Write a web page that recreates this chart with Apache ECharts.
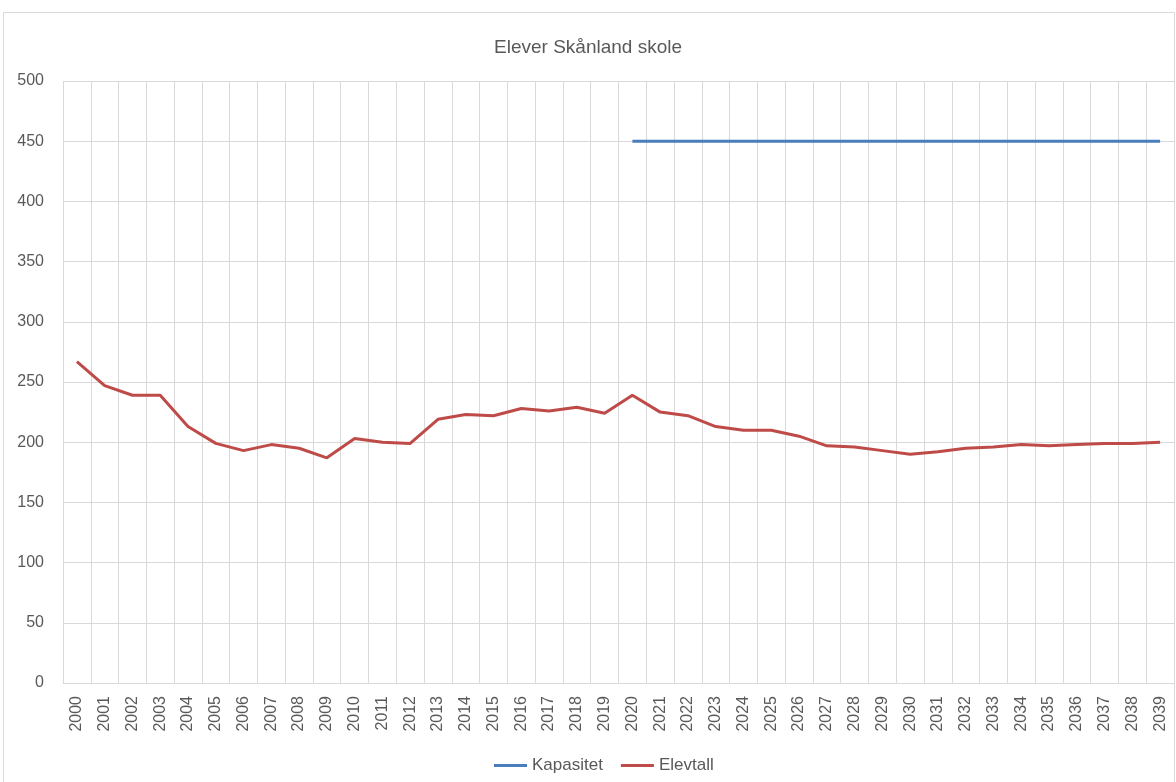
<!DOCTYPE html>
<html>
<head>
<meta charset="utf-8">
<script src="https://cdn.jsdelivr.net/npm/echarts@6/dist/echarts.min.js"></script>
<style>
html,body{margin:0;padding:0;background:#fff;}
#c{width:1176px;height:782px;}
</style>
</head>
<body>
<div id="c"></div>
<script>
var years = [];
for (var y = 2000; y <= 2039; y++) years.push(String(y));
var kapasitet = [null,null,null,null,null,null,null,null,null,null,
  null,null,null,null,null,null,null,null,null,null,
  450,450,450,450,450,450,450,450,450,450,
  450,450,450,450,450,450,450,450,450,450];
var elevtall = [267,247,239,239,213,199,193,198,195,187,
  203,200,199,219,223,222,228,226,229,224,
  239,225,222,213,210,210,205,197,196,193,
  190,192,195,196,198,197,198,199,199,200];
var yTicks = {min:0, max:500, interval:50};

var chart = echarts.init(document.getElementById('c'));
var font = 'Liberation Sans';
chart.setOption({
  animation:false,
  backgroundColor:'#fff',
  title:{text:'Elever Skånland skole', left:'center', top:33,
    textStyle:{fontFamily:font, fontSize:19, fontWeight:'normal', color:'#595959'}},
  graphic:[{type:'rect', shape:{x:3.5,y:12.5,width:1171,height:790},
    style:{fill:'none', stroke:'#d9d9d9', lineWidth:1}, silent:true}],
  legend:{top:752, left:489, itemWidth:33, itemHeight:3, itemGap:18, icon:'rect',
    textStyle:{fontFamily:font, fontSize:17, color:'#595959'},
    data:['Kapasitet','Elevtall']},
  grid:{left:63, right:2, top:81, bottom:99, containLabel:false},
  xAxis:{type:'category', data:years, boundaryGap:true,
    axisLine:{lineStyle:{color:'#d9d9d9'}}, axisTick:{show:false},
    splitLine:{show:true, interval:0, lineStyle:{color:'#d9d9d9'}},
    axisLabel:{rotate:90, interval:0, margin:13, fontFamily:font, fontSize:16, color:'#595959'}},
  yAxis:{type:'value', min:yTicks.min, max:yTicks.max, interval:yTicks.interval,
    axisLine:{show:false}, axisTick:{show:false},
    splitLine:{lineStyle:{color:'#d9d9d9'}},
    axisLabel:{margin:19, fontFamily:font, fontSize:16, color:'#595959'}},
  series:[
    {name:'Kapasitet', type:'line', data:kapasitet, showSymbol:false, symbol:'none',
      lineStyle:{width:3, color:'#4a7ebb'}, itemStyle:{color:'#4a7ebb'}},
    {name:'Elevtall', type:'line', data:elevtall, showSymbol:false, symbol:'none',
      lineStyle:{width:3, color:'#be4b48'}, itemStyle:{color:'#be4b48'}}
  ]
});
</script>
</body>
</html>
